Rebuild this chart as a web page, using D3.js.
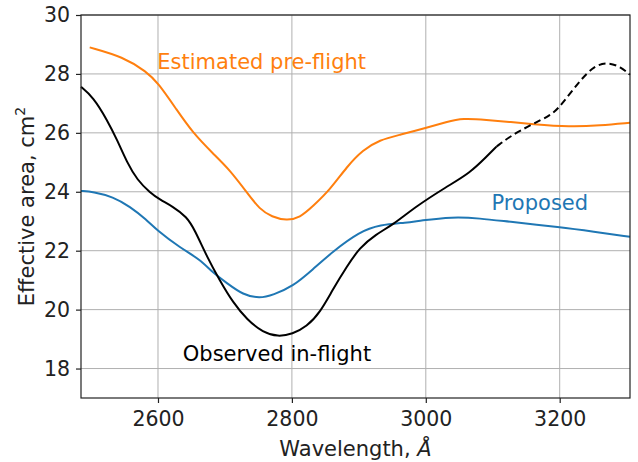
<!DOCTYPE html>
<html>
<head>
<meta charset="utf-8">
<script src="https://cdn.jsdelivr.net/npm/d3@7"></script>
<style>
  body { margin: 0; background: #fff; }
  text { font-family: "DejaVu Sans", sans-serif; }
</style>
</head>
<body>
<div id="chart-container"></div>
<script>
// Effective area curves (wavelength in Angstrom, area in cm^2)
const estX = [2498, 2548, 2583, 2600, 2628, 2652, 2682, 2707, 2733, 2752, 2770, 2792, 2812, 2831, 2857, 2882, 2906, 2931, 2961, 3001, 3031, 3055, 3091, 3125, 3157, 3216, 3260, 3305];
const estY = [28.9, 28.58, 28.07, 27.7, 26.78, 26.0, 25.3, 24.75, 23.97, 23.4, 23.15, 23.02, 23.12, 23.5, 24.07, 24.85, 25.42, 25.76, 25.93, 26.17, 26.37, 26.5, 26.44, 26.37, 26.3, 26.2, 26.25, 26.34];

const obsX = [2485, 2503, 2524, 2539, 2554, 2569, 2588, 2603, 2622, 2643, 2655, 2673, 2692, 2712, 2733, 2757, 2779, 2801, 2822, 2842, 2861, 2882, 2901, 2925, 2951, 2985, 3031, 3066, 3091, 3106];
const obsY = [27.56, 27.22, 26.44, 25.76, 24.98, 24.4, 23.97, 23.73, 23.5, 23.15, 22.7, 21.8, 21.0, 20.24, 19.66, 19.22, 19.08, 19.17, 19.42, 19.9, 20.68, 21.46, 22.1, 22.55, 22.88, 23.5, 24.17, 24.64, 25.2, 25.54];

// extrapolated part (dashed)
const obsExtX = [3106, 3127, 3157, 3187, 3201, 3231, 3252, 3272, 3291, 3305];
const obsExtY = [25.54, 25.9, 26.27, 26.6, 26.9, 27.8, 28.28, 28.4, 28.24, 27.97];

const propX = [2485, 2503, 2533, 2558, 2583, 2598, 2633, 2663, 2682, 2703, 2727, 2752, 2772, 2801, 2831, 2861, 2901, 2931, 2972, 2991, 3040, 3080, 3125, 3201, 3250, 3305];
const propY = [24.03, 24.0, 23.83, 23.5, 23.05, 22.7, 22.1, 21.7, 21.25, 20.9, 20.5, 20.38, 20.5, 20.78, 21.36, 21.97, 22.64, 22.88, 22.95, 23.02, 23.15, 23.1, 22.98, 22.8, 22.65, 22.47];

const xTicks = [2600, 2800, 3000, 3200];
const yTicks = [18, 20, 22, 24, 26, 28, 30];

const margin = {top: 15, right: 8, bottom: 64, left: 81};
const width = 638 - margin.left - margin.right;
const height = 462 - margin.top - margin.bottom;

const xScale = d3.scaleLinear()
    .domain([2485, 3305])
    .range([0, width]);

const yScale = d3.scaleLinear()
    .domain([17, 30])
    .range([height, 0]);

const svg = d3.select("#chart-container")
    .append("svg")
        .attr("width", width + margin.left + margin.right)
        .attr("height", height + margin.top + margin.bottom)
    .append("g")
        .attr("transform", `translate(${margin.left},${margin.top})`);

// gridlines
svg.selectAll(".xgrid")
    .data(xTicks)
    .join("line")
    .attr("x1", d => xScale(d))
    .attr("x2", d => xScale(d))
    .attr("y1", 0)
    .attr("y2", height)
    .attr("stroke", "#b0b0b0")
    .attr("stroke-width", 1);

svg.selectAll(".ygrid")
    .data(yTicks)
    .join("line")
    .attr("x1", 0)
    .attr("x2", width)
    .attr("y1", d => yScale(d))
    .attr("y2", d => yScale(d))
    .attr("stroke", "#b0b0b0")
    .attr("stroke-width", 1);

// axes
const xAxis = d3.axisBottom(xScale).tickValues(xTicks).tickSize(5).tickPadding(8).tickFormat(d3.format("d"));
const yAxis = d3.axisLeft(yScale).tickValues(yTicks).tickSize(5).tickPadding(6);

const gx = svg.append("g")
    .attr("transform", `translate(0,${height})`)
    .call(xAxis);
const gy = svg.append("g").call(yAxis);

[gx, gy].forEach(g => {
    g.select(".domain").remove();
    g.selectAll("line").attr("stroke", "#222").attr("stroke-width", 1.2);
    g.selectAll("text").attr("font-size", 20.5).attr("fill", "#222")
        .attr("font-family", "DejaVu Sans, sans-serif");
});

// lines (basis spline smooths the hand-read points)
const line = d3.line()
    .x(d => xScale(d[0]))
    .y(d => yScale(d[1]))
    .curve(d3.curveBasis);

const zip = (xs, ys) => xs.map((d, i) => [d, ys[i]]);

svg.append("path")
    .datum(zip(estX, estY))
    .attr("fill", "none")
    .attr("stroke", "#ff7f0e")
    .attr("stroke-width", 2)
    .attr("d", line);

svg.append("path")
    .datum(zip(propX, propY))
    .attr("fill", "none")
    .attr("stroke", "#1f77b4")
    .attr("stroke-width", 2)
    .attr("d", line);

svg.append("path")
    .datum(zip(obsX, obsY))
    .attr("fill", "none")
    .attr("stroke", "#000")
    .attr("stroke-width", 2)
    .attr("d", line);

svg.append("path")
    .datum(zip(obsExtX, obsExtY))
    .attr("fill", "none")
    .attr("stroke", "#000")
    .attr("stroke-width", 2)
    .attr("stroke-dasharray", "7,4")
    .attr("d", line);

// frame
svg.append("rect")
    .attr("width", width)
    .attr("height", height)
    .attr("fill", "none")
    .attr("stroke", "#222")
    .attr("stroke-width", 1.2);

// curve labels
svg.append("text")
    .attr("x", xScale(2599))
    .attr("y", yScale(28.17))
    .attr("fill", "#ff7f0e")
    .attr("font-size", 21)
    .text("Estimated pre-flight");

svg.append("text")
    .attr("x", xScale(2637))
    .attr("y", yScale(18.27))
    .attr("fill", "#000")
    .attr("font-size", 21)
    .text("Observed in-flight");

svg.append("text")
    .attr("x", xScale(3098))
    .attr("y", yScale(23.38))
    .attr("fill", "#1f77b4")
    .attr("font-size", 21)
    .text("Proposed");

// axis titles
const xl = svg.append("text")
    .attr("x", width / 2)
    .attr("y", height + 58)
    .attr("text-anchor", "middle")
    .attr("font-size", 21)
    .attr("fill", "#222");
xl.append("tspan").text("Wavelength, ");
xl.append("tspan").attr("font-style", "italic").text("Å");

const yl = svg.append("text")
    .attr("transform", `translate(${-47},${height / 2}) rotate(-90)`)
    .attr("text-anchor", "middle")
    .attr("font-size", 21)
    .attr("fill", "#222");
yl.append("tspan").text("Effective area, cm");
yl.append("tspan").attr("font-size", 14).attr("dy", -9).text("2");
</script>
</body>
</html>
